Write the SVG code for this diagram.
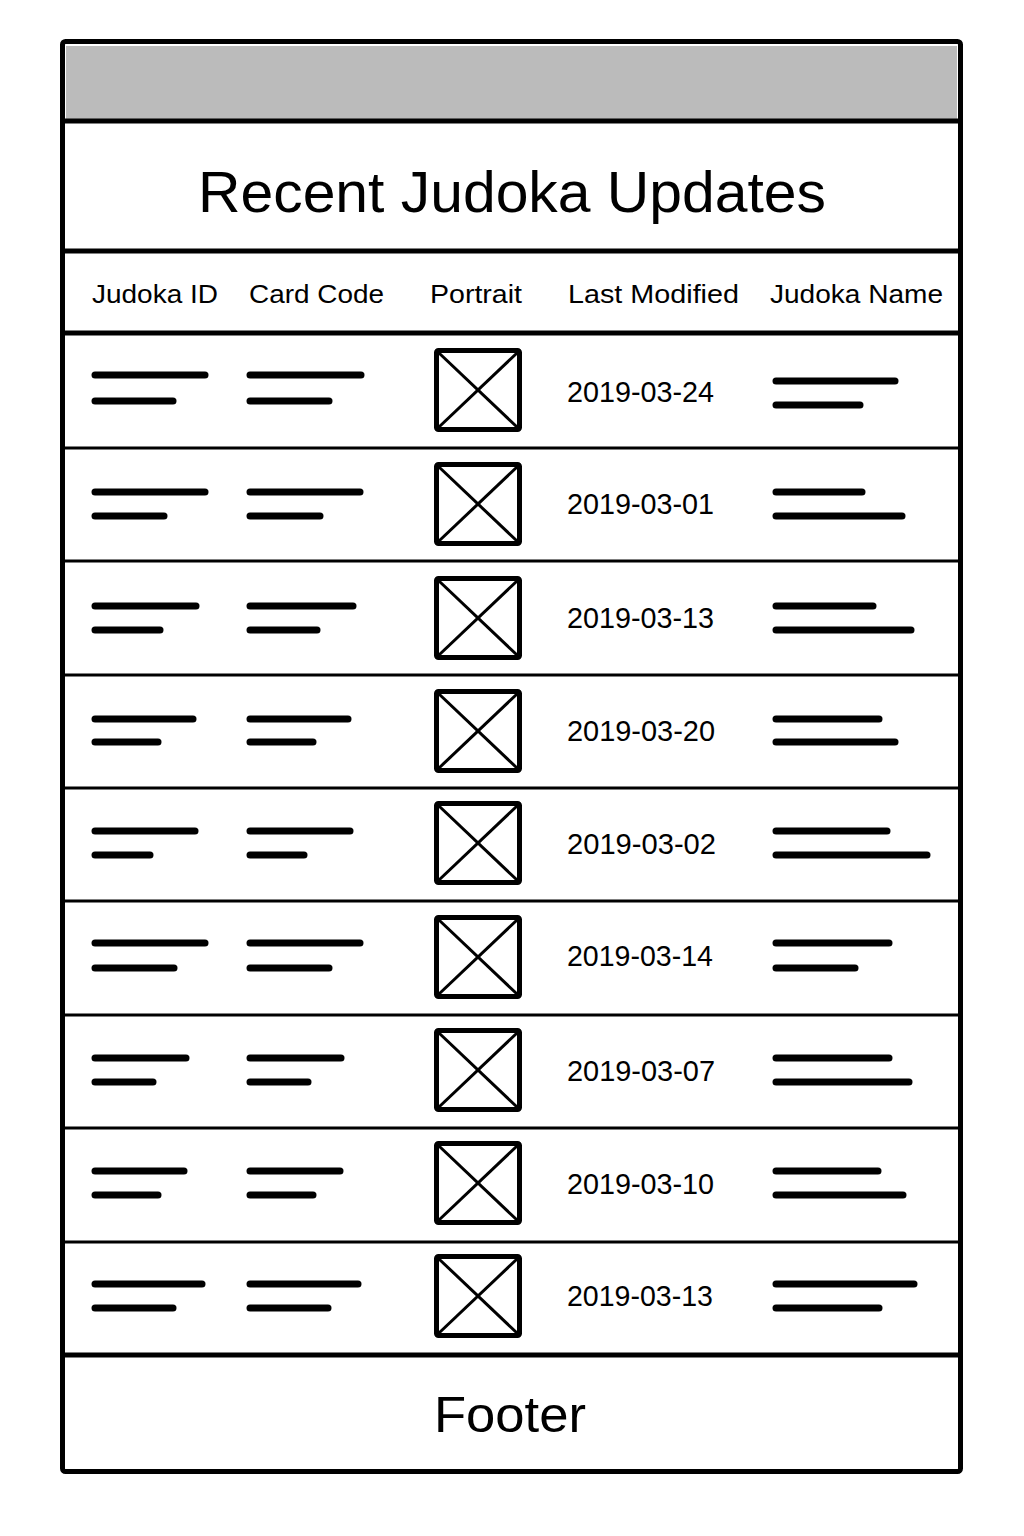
<svg xmlns="http://www.w3.org/2000/svg" width="1024" height="1536" viewBox="0 0 1024 1536">
<style>
.frame{fill:#fff;stroke:#000;stroke-width:5}
.major{stroke:#000;stroke-width:5}
.sep{stroke:#000;stroke-width:3}
.ph{stroke:#000;stroke-width:7;stroke-linecap:round}
.img{fill:#fff;stroke:#000;stroke-width:5}
.x{stroke:#000;stroke-width:3}
.t{font-family:"Liberation Sans",Arial,sans-serif;fill:#000}
.hdr{font-size:26px}
.date{font-size:30px}
</style>
<defs>
<g id="pic">
<rect class="img" x="436.5" y="2.5" width="83" height="79" rx="2"/>
<line class="x" x1="439" y1="5" x2="517" y2="79"/>
<line class="x" x1="517" y1="5" x2="439" y2="79"/>
</g>
</defs>
<rect width="1024" height="1536" fill="#fff"/>
<g id="frame">
<rect class="frame" x="62.5" y="41.5" width="898" height="1430" rx="3"/>
<rect x="66" y="46" width="891" height="73" fill="#bbbbbb"/>
</g>
<g id="connectors">
<line class="major" x1="62" y1="121" x2="961" y2="121"/>
<line class="major" x1="62" y1="251" x2="961" y2="251"/>
<line class="major" x1="62" y1="333" x2="961" y2="333"/>
<line class="sep" x1="62" y1="448" x2="961" y2="448"/>
<line class="sep" x1="62" y1="561" x2="961" y2="561"/>
<line class="sep" x1="62" y1="675" x2="961" y2="675"/>
<line class="sep" x1="62" y1="788" x2="961" y2="788"/>
<line class="sep" x1="62" y1="901" x2="961" y2="901"/>
<line class="sep" x1="62" y1="1015" x2="961" y2="1015"/>
<line class="sep" x1="62" y1="1128" x2="961" y2="1128"/>
<line class="sep" x1="62" y1="1242" x2="961" y2="1242"/>
<line class="major" x1="62" y1="1355" x2="961" y2="1355"/>
</g>
<g id="title">
<text class="t" x="512" y="212" font-size="57" text-anchor="middle" textLength="628" lengthAdjust="spacingAndGlyphs">Recent Judoka Updates</text>
</g>
<g id="header">
<text class="t hdr" x="92" y="303" textLength="126" lengthAdjust="spacingAndGlyphs">Judoka ID</text>
<text class="t hdr" x="249" y="303" textLength="135" lengthAdjust="spacingAndGlyphs">Card Code</text>
<text class="t hdr" x="430" y="303" textLength="92" lengthAdjust="spacingAndGlyphs">Portrait</text>
<text class="t hdr" x="568" y="303" textLength="171" lengthAdjust="spacingAndGlyphs">Last Modified</text>
<text class="t hdr" x="770" y="303" textLength="173" lengthAdjust="spacingAndGlyphs">Judoka Name</text>
</g>
<g id="row1">
<line class="ph" x1="95" y1="375" x2="205" y2="375"/><line class="ph" x1="95" y1="401" x2="173" y2="401"/>
<line class="ph" x1="250" y1="375" x2="361" y2="375"/><line class="ph" x1="250" y1="401" x2="329" y2="401"/>
<use href="#pic" y="348"/>
<text class="t date" x="567" y="402" textLength="147" lengthAdjust="spacingAndGlyphs">2019-03-24</text>
<line class="ph" x1="776" y1="381" x2="895" y2="381"/><line class="ph" x1="776" y1="405" x2="860" y2="405"/>
</g>
<g id="row2">
<line class="ph" x1="95" y1="492" x2="205" y2="492"/><line class="ph" x1="95" y1="516" x2="164" y2="516"/>
<line class="ph" x1="250" y1="492" x2="360" y2="492"/><line class="ph" x1="250" y1="516" x2="320" y2="516"/>
<use href="#pic" y="462"/>
<text class="t date" x="567" y="514" textLength="147" lengthAdjust="spacingAndGlyphs">2019-03-01</text>
<line class="ph" x1="776" y1="492" x2="862" y2="492"/><line class="ph" x1="776" y1="516" x2="902" y2="516"/>
</g>
<g id="row3">
<line class="ph" x1="95" y1="606" x2="196" y2="606"/><line class="ph" x1="95" y1="630" x2="160" y2="630"/>
<line class="ph" x1="250" y1="606" x2="353" y2="606"/><line class="ph" x1="250" y1="630" x2="317" y2="630"/>
<use href="#pic" y="576"/>
<text class="t date" x="567" y="628" textLength="147" lengthAdjust="spacingAndGlyphs">2019-03-13</text>
<line class="ph" x1="776" y1="606" x2="873" y2="606"/><line class="ph" x1="776" y1="630" x2="911" y2="630"/>
</g>
<g id="row4">
<line class="ph" x1="95" y1="719" x2="193" y2="719"/><line class="ph" x1="95" y1="742" x2="158" y2="742"/>
<line class="ph" x1="250" y1="719" x2="348" y2="719"/><line class="ph" x1="250" y1="742" x2="313" y2="742"/>
<use href="#pic" y="689"/>
<text class="t date" x="567" y="741" textLength="148" lengthAdjust="spacingAndGlyphs">2019-03-20</text>
<line class="ph" x1="776" y1="719" x2="879" y2="719"/><line class="ph" x1="776" y1="742" x2="895" y2="742"/>
</g>
<g id="row5">
<line class="ph" x1="95" y1="831" x2="195" y2="831"/><line class="ph" x1="95" y1="855" x2="150" y2="855"/>
<line class="ph" x1="250" y1="831" x2="350" y2="831"/><line class="ph" x1="250" y1="855" x2="304" y2="855"/>
<use href="#pic" y="801"/>
<text class="t date" x="567" y="854" textLength="149" lengthAdjust="spacingAndGlyphs">2019-03-02</text>
<line class="ph" x1="776" y1="831" x2="887" y2="831"/><line class="ph" x1="776" y1="855" x2="927" y2="855"/>
</g>
<g id="row6">
<line class="ph" x1="95" y1="943" x2="205" y2="943"/><line class="ph" x1="95" y1="968" x2="174" y2="968"/>
<line class="ph" x1="250" y1="943" x2="360" y2="943"/><line class="ph" x1="250" y1="968" x2="329" y2="968"/>
<use href="#pic" y="915"/>
<text class="t date" x="567" y="966" textLength="146" lengthAdjust="spacingAndGlyphs">2019-03-14</text>
<line class="ph" x1="776" y1="943" x2="889" y2="943"/><line class="ph" x1="776" y1="968" x2="855" y2="968"/>
</g>
<g id="row7">
<line class="ph" x1="95" y1="1058" x2="186" y2="1058"/><line class="ph" x1="95" y1="1082" x2="153" y2="1082"/>
<line class="ph" x1="250" y1="1058" x2="341" y2="1058"/><line class="ph" x1="250" y1="1082" x2="308" y2="1082"/>
<use href="#pic" y="1028"/>
<text class="t date" x="567" y="1081" textLength="148" lengthAdjust="spacingAndGlyphs">2019-03-07</text>
<line class="ph" x1="776" y1="1058" x2="889" y2="1058"/><line class="ph" x1="776" y1="1082" x2="909" y2="1082"/>
</g>
<g id="row8">
<line class="ph" x1="95" y1="1171" x2="184" y2="1171"/><line class="ph" x1="95" y1="1195" x2="158" y2="1195"/>
<line class="ph" x1="250" y1="1171" x2="340" y2="1171"/><line class="ph" x1="250" y1="1195" x2="313" y2="1195"/>
<use href="#pic" y="1141"/>
<text class="t date" x="567" y="1194" textLength="147" lengthAdjust="spacingAndGlyphs">2019-03-10</text>
<line class="ph" x1="776" y1="1171" x2="878" y2="1171"/><line class="ph" x1="776" y1="1195" x2="903" y2="1195"/>
</g>
<g id="row9">
<line class="ph" x1="95" y1="1284" x2="202" y2="1284"/><line class="ph" x1="95" y1="1308" x2="173" y2="1308"/>
<line class="ph" x1="250" y1="1284" x2="358" y2="1284"/><line class="ph" x1="250" y1="1308" x2="328" y2="1308"/>
<use href="#pic" y="1254"/>
<text class="t date" x="567" y="1306" textLength="146" lengthAdjust="spacingAndGlyphs">2019-03-13</text>
<line class="ph" x1="776" y1="1284" x2="914" y2="1284"/><line class="ph" x1="776" y1="1308" x2="879" y2="1308"/>
</g>
<g id="footer">
<text class="t" x="510" y="1432" font-size="50" text-anchor="middle" textLength="152" lengthAdjust="spacingAndGlyphs">Footer</text>
</g>
</svg>
